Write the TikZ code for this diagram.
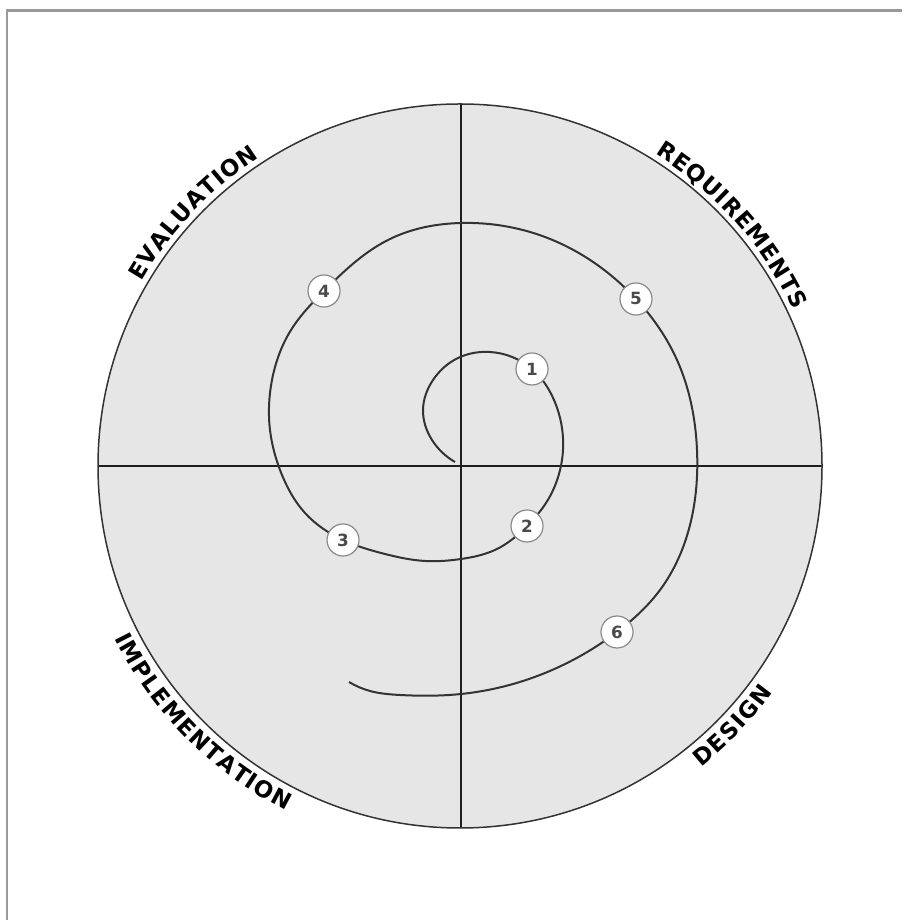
\documentclass[tikz,border=0pt]{standalone}
\usepackage{fontspec}
\newfontfamily\labfont{DejaVu Sans}
\usetikzlibrary{decorations.text,hobby}
\definecolor{fillgray}{HTML}{E6E6E6}
\definecolor{framegray}{HTML}{999999}
\definecolor{linedark}{HTML}{333333}
\definecolor{axisdark}{HTML}{1E1E1E}
\definecolor{markgray}{HTML}{8A8A8A}
\definecolor{digitgray}{HTML}{4A4A4A}
\tikzset{
  framestyle/.style={draw=framegray, line width=1.25pt},
  circstyle/.style={draw=linedark, line width=0.75pt},
  axisstyle/.style={draw=axisdark, line width=1pt},
  spiralstyle/.style={draw=linedark, line width=1pt},
  marker/.style={circle, draw=markgray, line width=0.6pt, fill=white, minimum size=16pt, inner sep=0pt,
    font=\labfont\bfseries\fontsize{8.4}{9}\selectfont, text=digitgray},
  arclabel/.style={decorate, decoration={text along path, text align=fit to path,
    text={|\labfont\bfseries\fontsize{11.4}{13}\selectfont|#1}}},
}
\begin{document}
\begin{tikzpicture}[x=0.5pt,y=0.5pt]
\useasboundingbox (0,0) rectangle (902,920);
% frame
\coordinate (fa) at (7,0);
\coordinate (fb) at (7,909.5);
\coordinate (fc) at (902,909.5);
\draw[framestyle] (fa) -- (fb) -- (fc);
% disc
\coordinate (c) at (460,454);
\fill[fillgray] (c) circle[radius=181pt];
\coordinate (ax-t) at (461,816);
\coordinate (ax-b) at (461,92);
\coordinate (ax-l) at (98,454);
\coordinate (ax-r) at (822,454);
\draw[axisstyle] (ax-t) -- (ax-b);
\draw[axisstyle] (ax-l) -- (ax-r);
\draw[circstyle] (c) circle[radius=181pt];
% marker positions
\coordinate (p1) at (532,551);
\coordinate (p2) at (527,394);
\coordinate (p3) at (343,380);
\coordinate (p4) at (324,629);
\coordinate (p5) at (636,621);
\coordinate (p6) at (617,288);
% spiral
\draw[spiralstyle, use Hobby shortcut] (455,458) .. (432,480) .. (423,510) .. (433,540) .. (458,562) .. (490,568)
 .. (p1) .. (554,520) .. (563,482) .. (559,446) .. (546,417)
 .. (p2) .. (497,371) .. (461,361) .. (425,359) .. (385,366)
 .. (p3) .. (305,407) .. (282,445) .. (270,490) .. (272,540) .. (291,590)
 .. (p4) .. (390,681) .. (461,697) .. (545,683)
 .. (p5) .. (677,560) .. (697,470) .. (690,395) .. (660,330)
 .. (p6) .. (545,247) .. (461,226) .. (400,225) .. (370,229) .. (349,238);
% markers
\node[marker] (m1) at (p1) {1};
\node[marker] (m2) at (p2) {2};
\node[marker] (m3) at (p3) {3};
\node[marker] (m4) at (p4) {4};
\node[marker] (m5) at (p5) {5};
\node[marker] (m6) at (p6) {6};
% curved labels
\path[arclabel=EVALUATION] ([shift={(150:184pt)}]c) arc[start angle=150, end angle=123, radius=184pt];
\path[arclabel=REQUIREMENTS] ([shift={(58:184pt)}]c) arc[start angle=58, end angle=25, radius=184pt];
\path[arclabel=IMPLEMENTATION] ([shift={(206.5:193pt)}]c) arc[start angle=206.5, end angle=243.3, radius=193pt];
\path[arclabel=DESIGN] ([shift={(308.7:193pt)}]c) arc[start angle=308.7, end angle=324.2, radius=193pt];
\end{tikzpicture}
\end{document}
